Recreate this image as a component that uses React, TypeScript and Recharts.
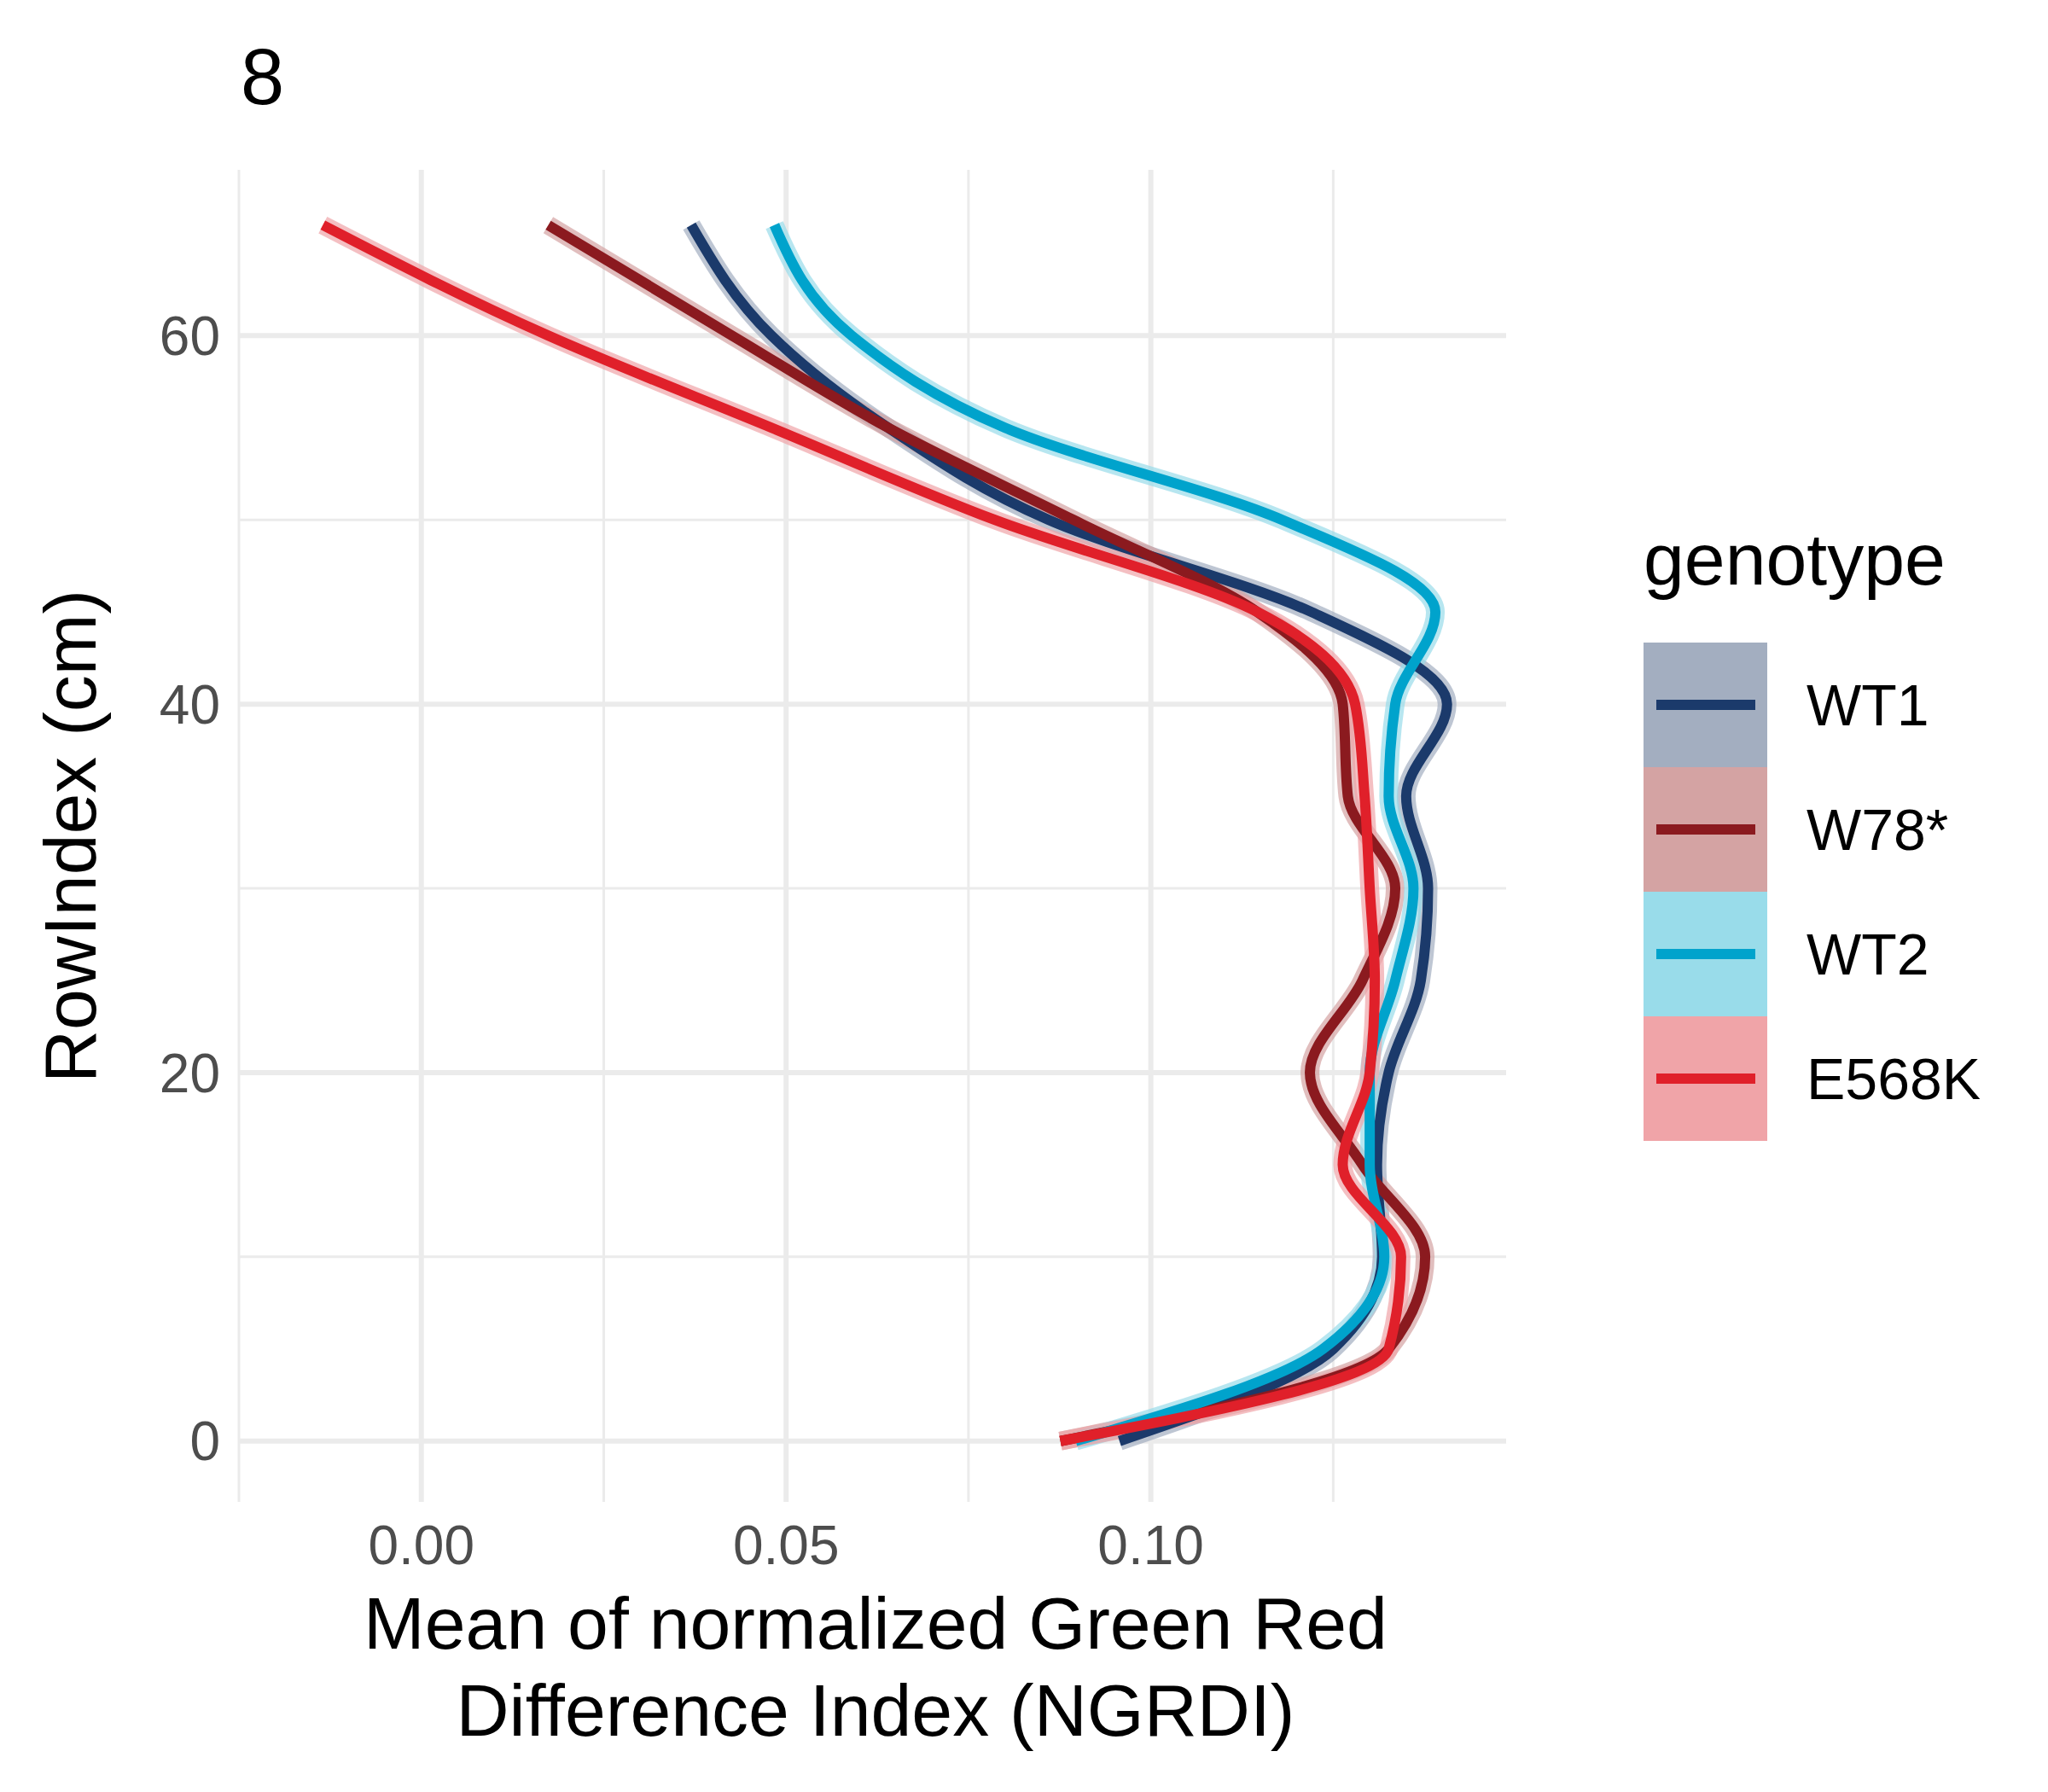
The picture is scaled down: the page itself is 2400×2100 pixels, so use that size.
import { LineChart, Line, XAxis, YAxis, ReferenceLine } from 'recharts'

const rowIndex = [0, 5, 10, 15, 20, 25, 30, 35, 40, 45, 50, 55, 60, 66]
const wt1 = [0.0957, 0.125, 0.1317, 0.131, 0.1326, 0.137, 0.138, 0.135, 0.1406, 0.122, 0.086, 0.064, 0.048, 0.037]
const w78 = [0.0876, 0.1326, 0.1376, 0.129, 0.1218, 0.129, 0.1335, 0.127, 0.1263, 0.1146, 0.0894, 0.064, 0.0426, 0.0174]
const wt2 = [0.0897, 0.1236, 0.132, 0.13, 0.13, 0.1335, 0.136, 0.1326, 0.1335, 0.139, 0.118, 0.08, 0.059, 0.0484]
const e568k = [0.0876, 0.1326, 0.1343, 0.1263, 0.13, 0.1307, 0.13, 0.1293, 0.128, 0.1146, 0.0786, 0.048, 0.0174, -0.0135]

const series = [
  { name: 'WT1', values: wt1, color: '#1B3A6B', fill: '#A3AEC0' },
  { name: 'W78*', values: w78, color: '#8B1A1F', fill: '#D4A3A3' },
  { name: 'WT2', values: wt2, color: '#00A3CC', fill: '#99DCEA' },
  { name: 'E568K', values: e568k, color: '#E0202A', fill: '#F0A4A8' },
]

const xMajor = [0, 0.05, 0.1]
const xMinor = [-0.025, 0.025, 0.075, 0.125]
const yMajor = [0, 20, 40, 60]
const yMinor = [10, 30, 50]

const font = '"Liberation Sans", Arial, sans-serif'

export default function App() {
  return (
    <div style={{ position: 'absolute', left: 0, top: 0, width: 2400, height: 2100, background: '#fff', fontFamily: font }}>
      <LineChart width={2400} height={2100} layout="vertical" margin={{ top: 199, right: 635, bottom: 240, left: 150 }}>
        <XAxis type="number" domain={[-0.025, 0.1487]} allowDataOverflow ticks={xMajor}
          tickFormatter={(v: number) => v.toFixed(2)} axisLine={false} tickLine={false}
          tick={{ fontSize: 64, fill: '#4D4D4D', fontFamily: font }} height={100} dy={20} />
        <YAxis type="number" dataKey="y" domain={[-3.3, 69]} allowDataOverflow ticks={yMajor} reversed
          axisLine={false} tickLine={false} width={130}
          tick={{ fontSize: 64, fill: '#4D4D4D', fontFamily: font }} dx={-14} />
        {xMinor.map(v => <ReferenceLine key={'xm' + v} x={v} stroke="#EBEBEB" strokeWidth={3} />)}
        {yMinor.map(v => <ReferenceLine key={'ym' + v} y={v} stroke="#EBEBEB" strokeWidth={3} />)}
        {xMajor.map(v => <ReferenceLine key={'xM' + v} x={v} stroke="#EBEBEB" strokeWidth={6} />)}
        {yMajor.map(v => <ReferenceLine key={'yM' + v} y={v} stroke="#EBEBEB" strokeWidth={6} />)}
        {series.map(s => (
          <Line key={s.name + 'r'} data={rowIndex.map((y, i) => ({ y, v: s.values[i] }))} dataKey="v"
            type="monotone" stroke={s.fill} strokeWidth={22} strokeOpacity={0.7} dot={false} isAnimationActive={false} />
        ))}
        {series.map(s => (
          <Line key={s.name} data={rowIndex.map((y, i) => ({ y, v: s.values[i] }))} dataKey="v"
            type="monotone" stroke={s.color} strokeWidth={12} dot={false} isAnimationActive={false} />
        ))}
      </LineChart>
      <svg width={2400} height={2100} style={{ position: 'absolute', left: 0, top: 0, pointerEvents: 'none' }} fontFamily={font}>
        <text x={282} y={122} fontSize={92} fill="#000">8</text>
        <text x={1026} y={1932} fontSize={86} textAnchor="middle" fill="#000">Mean of normalized Green Red</text>
        <text x={1026} y={2034} fontSize={86} textAnchor="middle" fill="#000">Difference Index (NGRDI)</text>
        <text transform="translate(112,980) rotate(-90)" fontSize={86} textAnchor="middle" fill="#000">RowIndex (cm)</text>
        <text x={1926} y={685} fontSize={86} fill="#000">genotype</text>
        {series.map((s, i) => (
          <g key={s.name}>
            <rect x={1926} y={753 + i * 146} width={145} height={146} fill={s.fill} />
            <line x1={1941} x2={2057} y1={826 + i * 146} y2={826 + i * 146} stroke={s.color} strokeWidth={12} />
            <text x={2117} y={850 + i * 146} fontSize={68} fill="#000">{s.name}</text>
          </g>
        ))}
      </svg>
    </div>
  )
}
